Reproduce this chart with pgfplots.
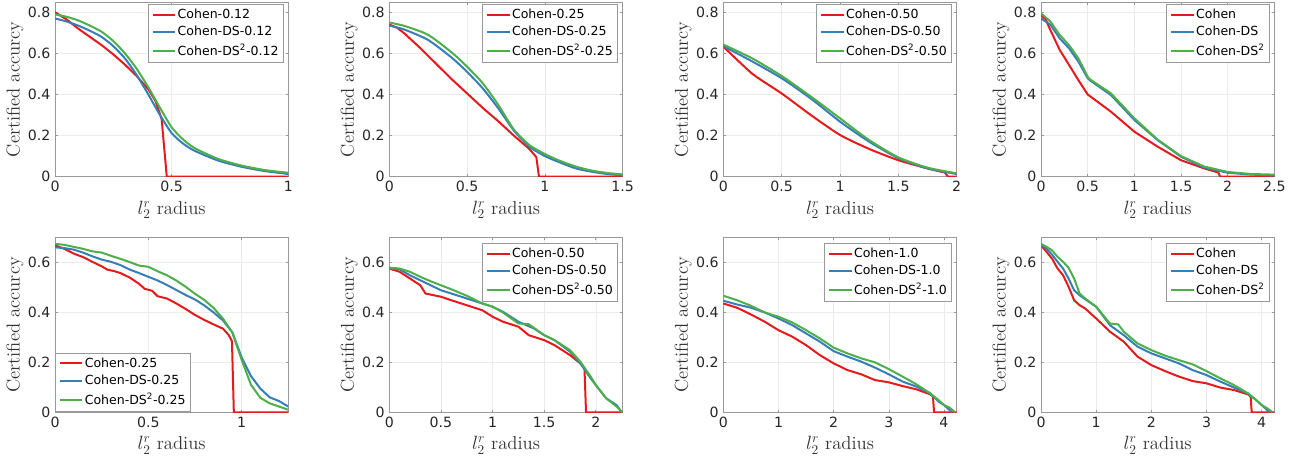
\documentclass[border=0pt]{standalone}
\usepackage{fontspec}
\setsansfont{DejaVu Sans}
\usepackage{pgfplots}
\pgfplotsset{compat=1.18}

\definecolor{cred}{RGB}{228,26,28}
\definecolor{cblue}{RGB}{55,126,184}
\definecolor{cgreen}{RGB}{77,175,74}

\newcommand{\labfont}{\fontsize{14}{16}\selectfont}

\pgfplotsset{
  panel/.style={
    scale only axis, width=175pt, height=131pt,
    anchor=south west,
    axis line style={black!40, line width=0.5pt},
    tick style={black!40, line width=0.5pt},
    tick align=inside, major tick length=2pt,
    grid=major, major grid style={black!8, line width=0.4pt},
    tick label style={font=\fontsize{10.6}{12}\sffamily, text=black!85},
    /pgf/number format/assume math mode=true,
    xlabel={\labfont$l_2^r$ radius}, ylabel={\labfont Certified accurcy},
    every axis y label/.style={at={(axis description cs:-0.172,0.5)}, rotate=90, anchor=center, text=black!80},
    every axis x label/.style={at={(axis description cs:0.5,-0.215)}, anchor=base, text=black!80},
    legend cell align=left,
    legend style={font=\fontsize{9.4}{11}\sffamily, draw=black!40, line width=0.5pt,
      at={(1,1)}, anchor=north east, xshift=-3.5pt, yshift=-1.2pt,
      inner sep=2.6pt, row sep=2.6pt, nodes={inner sep=1pt}},
    legend image code/.code={\draw[#1] (0pt,0pt) -- (17pt,0pt);},
    xmin=0, ymin=0,
  },
  top/.style={ymax=0.85, ytick={0,0.2,0.4,0.6,0.8}},
  bot/.style={ymax=0.7, ytick={0,0.2,0.4,0.6}, legend style={yshift=-2.6pt}},
  r/.style={cred, line width=1.5pt},
  b/.style={cblue, line width=1.5pt},
  g/.style={cgreen, line width=1.5pt},
  s/.style={smooth, tension=0.4},
}

\begin{document}
\begin{tikzpicture}
\useasboundingbox (0,0) rectangle (975.75pt,-342.75pt);

% ---- top row ----
\begin{axis}[panel, top, at={(41.25pt,-132.5pt)}, xmax=1, xtick={0,0.5,1}]
\addplot[r] coordinates {(0,0.80) (0.05,0.765) (0.1,0.72) (0.15,0.68) (0.2,0.64) (0.25,0.595) (0.3,0.545) (0.35,0.49) (0.4,0.425) (0.43,0.37) (0.457,0.28) (0.479,0) (1,0)};
\addlegendentry{Cohen-0.12}
\addplot[b,s] coordinates {(0,0.77) (0.05,0.755) (0.1,0.735) (0.15,0.71) (0.2,0.68) (0.25,0.635) (0.3,0.575) (0.35,0.495) (0.4,0.40) (0.45,0.30) (0.5,0.212) (0.55,0.16) (0.6,0.125) (0.7,0.078) (0.8,0.048) (0.9,0.027) (1,0.013)};
\addlegendentry{Cohen-DS-0.12}
\addplot[g,s] coordinates {(0,0.79) (0.05,0.778) (0.1,0.76) (0.15,0.735) (0.2,0.705) (0.25,0.66) (0.3,0.60) (0.35,0.525) (0.4,0.435) (0.45,0.335) (0.5,0.24) (0.55,0.18) (0.6,0.138) (0.7,0.086) (0.8,0.054) (0.9,0.032) (1,0.019)};
\addlegendentry{Cohen-DS\textsuperscript{2}-0.12}
\end{axis}

\begin{axis}[panel, top, at={(292pt,-132.5pt)}, xmax=1.5, xtick={0,0.5,1,1.5}]
\addplot[r] coordinates {(0,0.74) (0.05,0.725) (0.1,0.695) (0.2,0.625) (0.3,0.55) (0.4,0.475) (0.5,0.405) (0.6,0.335) (0.7,0.27) (0.8,0.2) (0.9,0.135) (0.945,0.095) (0.962,0) (1.5,0)};
\addlegendentry{Cohen-0.25}
\addplot[b,s] coordinates {(0,0.735) (0.1,0.715) (0.25,0.665) (0.4,0.58) (0.5,0.51) (0.6,0.43) (0.7,0.333) (0.8,0.225) (0.9,0.146) (1.0,0.10) (1.1,0.068) (1.2,0.04) (1.3,0.024) (1.4,0.013) (1.5,0.006)};
\addlegendentry{Cohen-DS-0.25}
\addplot[g,s] coordinates {(0,0.75) (0.1,0.733) (0.25,0.69) (0.4,0.605) (0.5,0.535) (0.6,0.455) (0.7,0.35) (0.8,0.23) (0.9,0.154) (1.0,0.11) (1.1,0.076) (1.2,0.049) (1.3,0.03) (1.4,0.018) (1.5,0.011)};
\addlegendentry{Cohen-DS\textsuperscript{2}-0.25}
\end{axis}

\begin{axis}[panel, top, at={(542.5pt,-132.5pt)}, xmax=2, xtick={0,0.5,1,1.5,2}]
\addplot[r,s] coordinates {(0,0.633) (0.25,0.50) (0.5,0.405) (0.75,0.30) (1.0,0.203) (1.25,0.135) (1.5,0.08) (1.75,0.04) (1.9,0.02)};
\addlegendentry{Cohen-0.50}
\addplot[r, forget plot] coordinates {(1.9,0.02) (1.925,0) (2,0)};
\addplot[b,s] coordinates {(0,0.635) (0.25,0.56) (0.5,0.479) (0.75,0.38) (1.0,0.268) (1.25,0.17) (1.5,0.09) (1.75,0.04) (2.0,0.013)};
\addlegendentry{Cohen-DS-0.50}
\addplot[g,s] coordinates {(0,0.643) (0.25,0.575) (0.5,0.49) (0.75,0.39) (1.0,0.284) (1.25,0.178) (1.5,0.094) (1.75,0.044) (2.0,0.016)};
\addlegendentry{Cohen-DS\textsuperscript{2}-0.50}
\end{axis}

\begin{axis}[panel, top, at={(780.75pt,-132.5pt)}, xmax=2.5, xtick={0,0.5,1,1.5,2,2.5}]
\addplot[r] coordinates {(0,0.787) (0.05,0.765) (0.1,0.714) (0.2,0.617) (0.3,0.544) (0.4,0.47) (0.5,0.40) (0.75,0.316) (1.0,0.219) (1.25,0.146) (1.5,0.08) (1.75,0.04) (1.9,0.02) (1.92,0) (2.5,0)};
\addlegendentry{Cohen}
\addplot[b] coordinates {(0,0.77) (0.1,0.74) (0.2,0.673) (0.3,0.625) (0.4,0.56) (0.5,0.479) (0.52,0.47) (0.75,0.397) (1.0,0.276) (1.25,0.178) (1.5,0.097) (1.75,0.044) (2.0,0.019) (2.25,0.01) (2.5,0.006)};
\addlegendentry{Cohen-DS}
\addplot[g] coordinates {(0,0.795) (0.1,0.755) (0.2,0.69) (0.3,0.64) (0.4,0.576) (0.5,0.487) (0.52,0.475) (0.75,0.405) (1.0,0.284) (1.25,0.18) (1.5,0.10) (1.75,0.049) (2.0,0.023) (2.25,0.013) (2.5,0.01)};
\addlegendentry{Cohen-DS\textsuperscript{2}}
\end{axis}

% ---- bottom row ----
\begin{axis}[panel, bot, at={(41.25pt,-309.2pt)}, xmax=1.25, xtick={0,0.5,1},
  legend style={at={(0,0)}, anchor=south west, xshift=3.5pt, yshift=4.2pt}]
\addplot[r] coordinates {(0,0.669) (0.05,0.655) (0.1,0.636) (0.15,0.622) (0.2,0.603) (0.25,0.585) (0.28,0.572) (0.32,0.565) (0.35,0.558) (0.4,0.54) (0.45,0.515) (0.48,0.495) (0.52,0.487) (0.55,0.465) (0.6,0.456) (0.65,0.436) (0.7,0.414) (0.75,0.39) (0.8,0.37) (0.85,0.352) (0.9,0.335) (0.93,0.31) (0.948,0.285) (0.958,0) (1.25,0)};
\addlegendentry{Cohen-0.25}
\addplot[b] coordinates {(0,0.661) (0.05,0.658) (0.1,0.652) (0.15,0.64) (0.2,0.625) (0.25,0.612) (0.3,0.603) (0.35,0.59) (0.4,0.572) (0.45,0.558) (0.5,0.543) (0.55,0.528) (0.6,0.51) (0.65,0.49) (0.7,0.47) (0.75,0.452) (0.8,0.428) (0.85,0.4) (0.9,0.368) (0.95,0.32) (1.0,0.22) (1.05,0.145) (1.1,0.095) (1.15,0.06) (1.2,0.045) (1.25,0.023)};
\addlegendentry{Cohen-DS-0.25}
\addplot[g] coordinates {(0,0.675) (0.05,0.671) (0.1,0.663) (0.15,0.655) (0.2,0.645) (0.25,0.64) (0.3,0.627) (0.35,0.615) (0.4,0.602) (0.45,0.588) (0.5,0.583) (0.55,0.565) (0.6,0.549) (0.65,0.528) (0.7,0.503) (0.75,0.475) (0.8,0.45) (0.85,0.418) (0.9,0.375) (0.95,0.32) (1.0,0.21) (1.05,0.11) (1.1,0.058) (1.15,0.036) (1.2,0.023) (1.25,0.01)};
\addlegendentry{Cohen-DS\textsuperscript{2}-0.25}
\end{axis}

\begin{axis}[panel, bot, at={(292pt,-309.2pt)}, xmax=2.26, xtick={0,0.5,1,1.5,2}]
\addplot[r] coordinates {(0,0.576) (0.1,0.563) (0.2,0.536) (0.3,0.509) (0.35,0.476) (0.5,0.463) (0.6,0.449) (0.75,0.429) (0.9,0.409) (1.0,0.383) (1.1,0.363) (1.25,0.343) (1.35,0.309) (1.5,0.289) (1.6,0.269) (1.75,0.229) (1.85,0.196) (1.89,0.176) (1.905,0) (2.26,0)};
\addlegendentry{Cohen-0.50}
\addplot[b] coordinates {(0,0.576) (0.1,0.573) (0.2,0.549) (0.3,0.529) (0.4,0.509) (0.5,0.489) (0.6,0.476) (0.75,0.456) (0.9,0.436) (1.0,0.423) (1.1,0.403) (1.25,0.363) (1.4,0.336) (1.5,0.309) (1.6,0.289) (1.75,0.243) (1.85,0.196) (1.95,0.136) (2.0,0.109) (2.1,0.056) (2.2,0.029) (2.25,0)};
\addlegendentry{Cohen-DS-0.50}
\addplot[g] coordinates {(0,0.58) (0.1,0.576) (0.2,0.563) (0.3,0.543) (0.4,0.525) (0.5,0.509) (0.6,0.493) (0.75,0.467) (0.9,0.436) (1.0,0.423) (1.1,0.40) (1.25,0.356) (1.35,0.353) (1.5,0.309) (1.6,0.289) (1.75,0.249) (1.85,0.203) (1.95,0.143) (2.0,0.109) (2.1,0.056) (2.2,0.023) (2.26,0)};
\addlegendentry{Cohen-DS\textsuperscript{2}-0.50}
\end{axis}

\begin{axis}[panel, bot, at={(542.5pt,-309.2pt)}, xmax=4.23, xtick={0,1,2,3,4}]
\addplot[r] coordinates {(0,0.436) (0.25,0.419) (0.5,0.392) (0.75,0.363) (1.0,0.329) (1.25,0.303) (1.5,0.269) (1.75,0.229) (2.0,0.196) (2.25,0.169) (2.5,0.152) (2.75,0.129) (3.0,0.12) (3.25,0.105) (3.5,0.092) (3.75,0.072) (3.8,0.063) (3.82,0) (4.23,0)};
\addlegendentry{Cohen-1.0}
\addplot[b] coordinates {(0,0.447) (0.25,0.432) (0.5,0.419) (0.75,0.40) (1.0,0.376) (1.25,0.349) (1.5,0.316) (1.75,0.283) (2.0,0.245) (2.25,0.223) (2.5,0.203) (2.75,0.179) (3.0,0.152) (3.25,0.123) (3.5,0.103) (3.75,0.076) (3.9,0.043) (4.0,0.029) (4.1,0.009) (4.15,0)};
\addlegendentry{Cohen-DS-1.0}
\addplot[g] coordinates {(0,0.467) (0.25,0.449) (0.5,0.427) (0.75,0.40) (1.0,0.383) (1.25,0.36) (1.5,0.329) (1.75,0.296) (2.0,0.259) (2.25,0.236) (2.5,0.216) (2.75,0.20) (3.0,0.173) (3.25,0.143) (3.5,0.112) (3.75,0.076) (3.9,0.049) (4.0,0.029) (4.1,0.019) (4.2,0)};
\addlegendentry{Cohen-DS\textsuperscript{2}-1.0}
\end{axis}

\begin{axis}[panel, bot, at={(780.75pt,-309.2pt)}, xmax=4.23, xtick={0,1,2,3,4}]
\addplot[r] coordinates {(0,0.669) (0.1,0.643) (0.2,0.616) (0.3,0.576) (0.4,0.549) (0.5,0.503) (0.6,0.449) (0.7,0.429) (0.8,0.416) (1.0,0.376) (1.25,0.323) (1.5,0.283) (1.75,0.223) (2.0,0.189) (2.25,0.165) (2.5,0.143) (2.75,0.125) (3.0,0.116) (3.25,0.099) (3.5,0.089) (3.75,0.072) (3.8,0.063) (3.82,0) (4.23,0)};
\addlegendentry{Cohen}
\addplot[b] coordinates {(0,0.669) (0.1,0.656) (0.2,0.632) (0.3,0.603) (0.4,0.576) (0.5,0.536) (0.6,0.489) (0.7,0.469) (0.8,0.453) (1.0,0.423) (1.25,0.349) (1.5,0.309) (1.75,0.263) (2.0,0.236) (2.25,0.216) (2.5,0.196) (2.75,0.169) (3.0,0.149) (3.25,0.123) (3.5,0.099) (3.75,0.076) (3.9,0.049) (4.0,0.029) (4.1,0.009) (4.15,0)};
\addlegendentry{Cohen-DS}
\addplot[g] coordinates {(0,0.675) (0.1,0.663) (0.2,0.649) (0.3,0.623) (0.4,0.603) (0.5,0.579) (0.6,0.536) (0.7,0.476) (0.8,0.456) (1.0,0.423) (1.25,0.356) (1.4,0.352) (1.5,0.323) (1.75,0.276) (2.0,0.249) (2.25,0.227) (2.5,0.209) (2.75,0.192) (3.0,0.165) (3.25,0.136) (3.5,0.109) (3.75,0.076) (3.9,0.049) (4.0,0.029) (4.1,0.016) (4.2,0)};
\addlegendentry{Cohen-DS\textsuperscript{2}}
\end{axis}
\end{tikzpicture}
\end{document}
